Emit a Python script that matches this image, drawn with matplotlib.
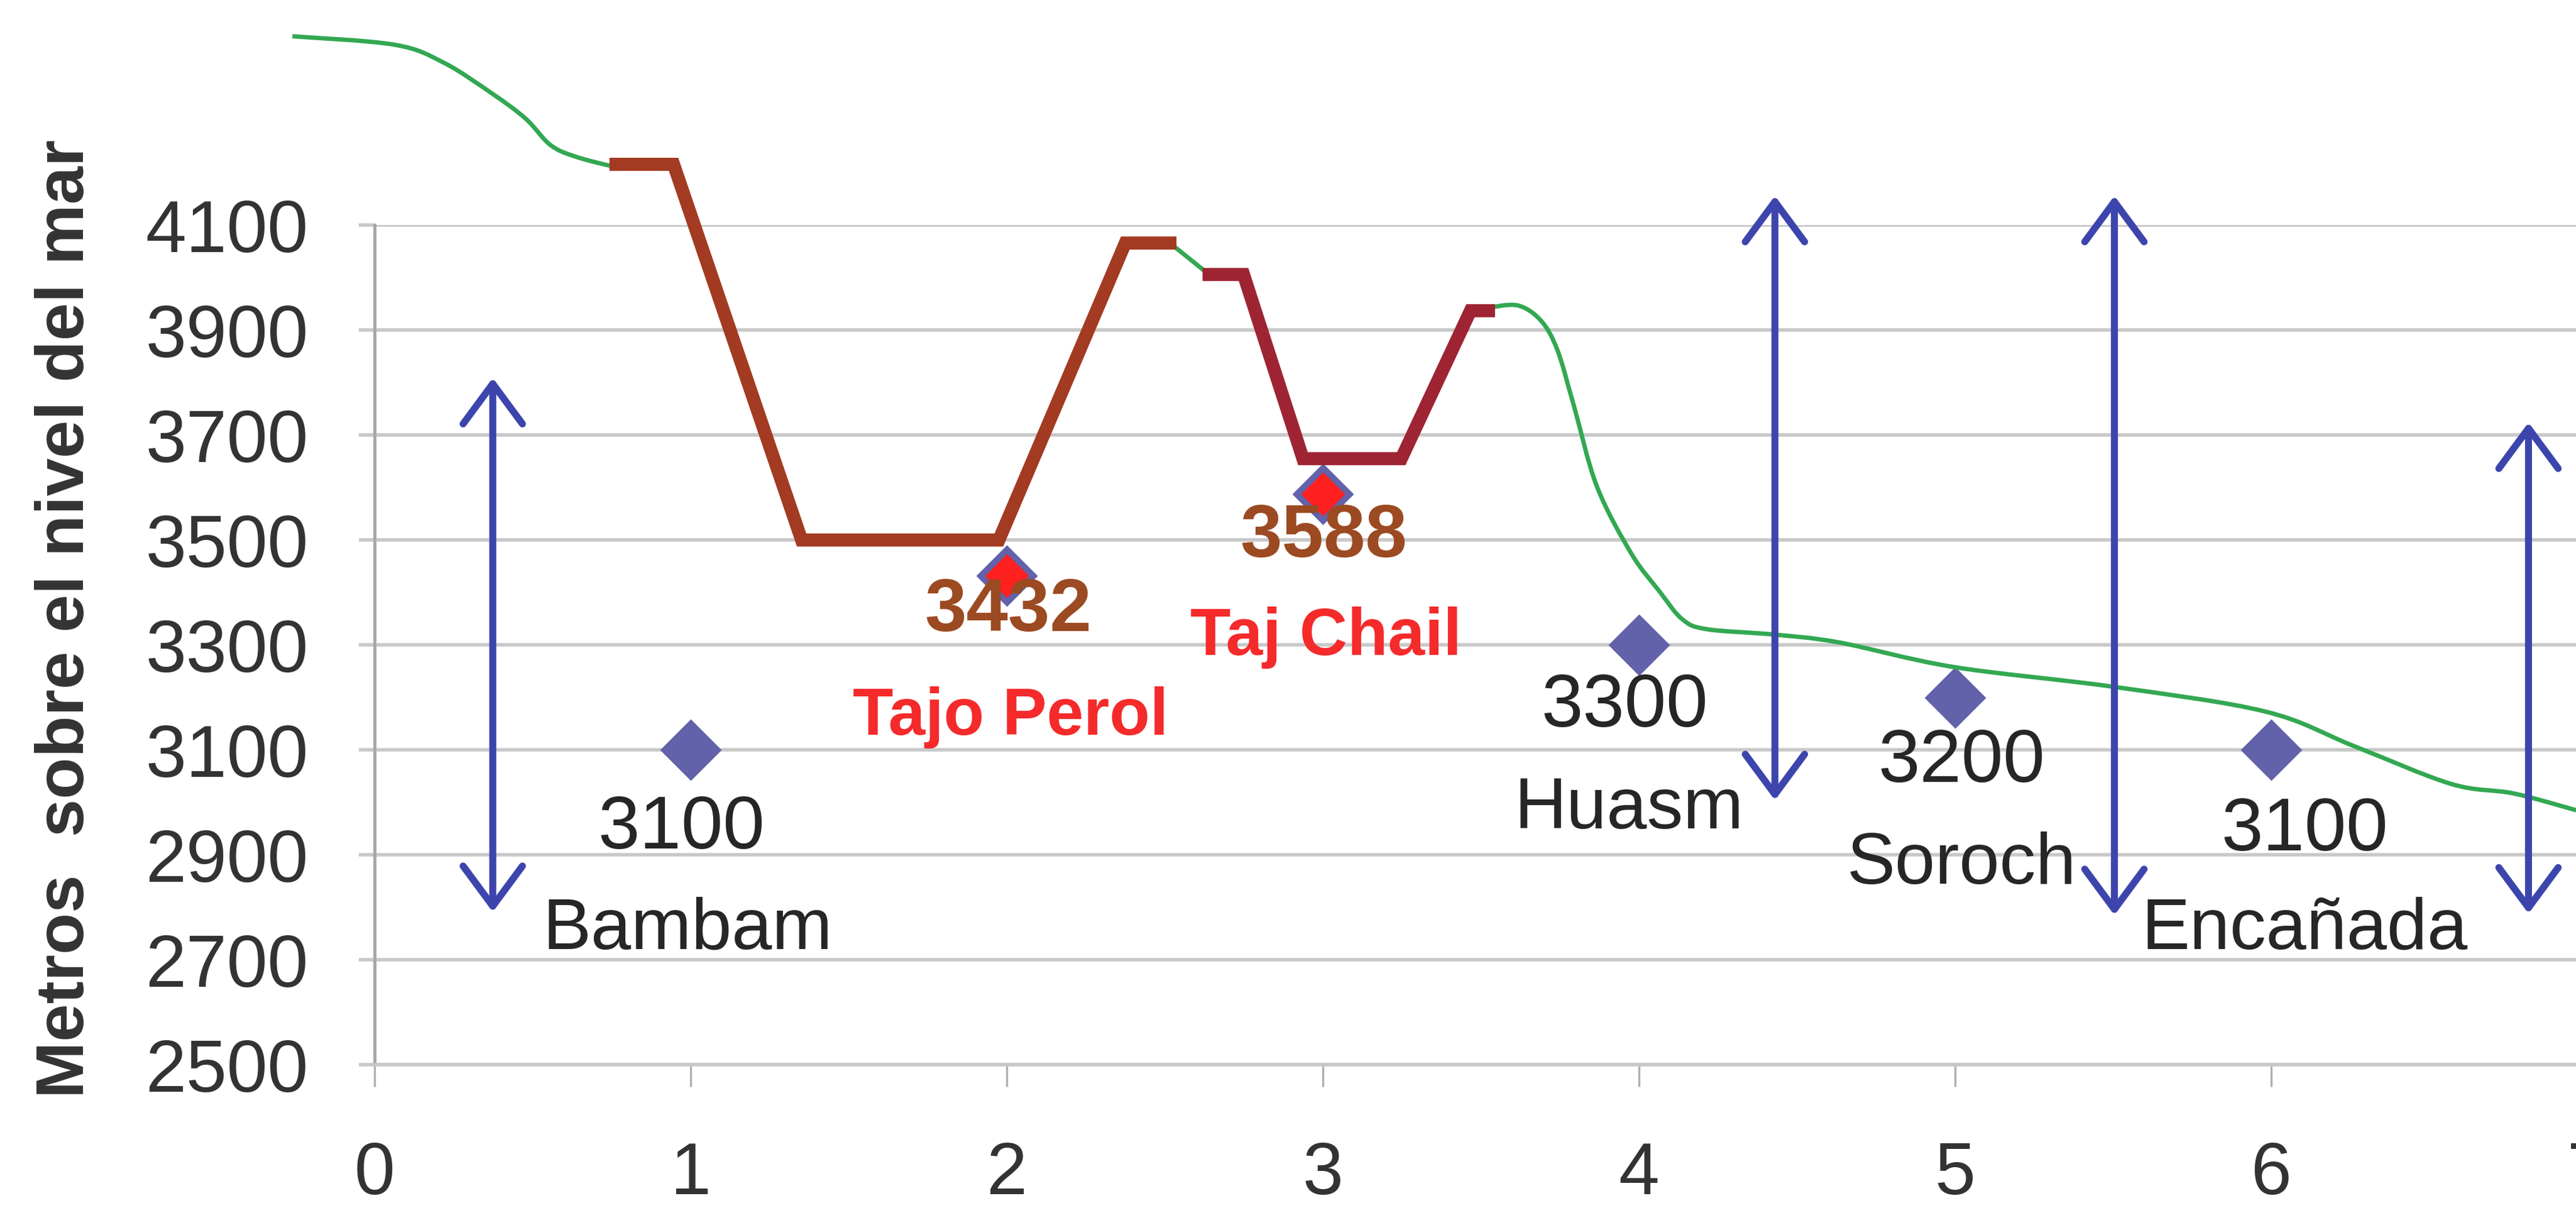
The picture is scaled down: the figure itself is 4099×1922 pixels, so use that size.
import matplotlib
matplotlib.use("Agg")
import matplotlib.pyplot as plt
from matplotlib.path import Path
from matplotlib.patches import PathPatch

plt.rcParams['font.family'] = ['Liberation Sans', 'DejaVu Sans']

# sitios (diamantes)
sites_x = [1, 2, 3, 4, 5, 6]
sites_alt = [3100, 3432, 3588, 3300, 3200, 3100]
site_names = ["Bambam", "Tajo Perol", "Taj Chail", "Huasm", "Soroch", "Encañada"]
highlight = [False, True, True, False, False, False]

# perfil del terreno (verde), tramos del tajo (marron / granate)
green1_x = [-0.26, 0.062, 0.218, 0.374, 0.478, 0.556, 0.634, 0.748, 0.764]
green1_y = [4460, 4444, 4410, 4350, 4303, 4253, 4231, 4213, 4216]
brown_x = [0.764, 0.946, 1.351, 1.975, 2.375, 2.516]
brown_y = [4216, 4216, 3500, 3500, 4066, 4066]
green2_x = [2.516, 2.640]
green2_y = [4066, 4006]
maroon_x = [2.640, 2.749, 2.937, 3.248, 3.467, 3.524]
maroon_y = [4006, 4006, 3655, 3655, 3937, 3937]
green3_x = [3.524, 3.617, 3.690, 3.742, 3.794, 3.867, 3.976, 4.065, 4.137, 4.215,
            4.423, 4.631, 4.995, 5.504, 5.982, 6.263, 6.570, 6.767, 6.965]
green3_y = [3943, 3947, 3918, 3862, 3756, 3602, 3474, 3402, 3349, 3330,
            3320, 3305, 3258, 3220, 3173, 3107, 3035, 3017, 2985]

# flechas dobles (x, arriba, abajo)
arrow_x = [0.374, 4.43, 5.504, 6.814]
arrow_top = [3809, 4156, 4156, 3724]
arrow_bot = [2791, 3004, 2785, 2788]

yticks = [2500, 2700, 2900, 3100, 3300, 3500, 3700, 3900, 4100]
xticks = [0, 1, 2, 3, 4, 5, 6, 7]

# posiciones de etiquetas (linea base)
val_lx = [0.97, 2.004, 3.003, 3.955, 5.02, 6.105]
val_ly = [2912, 3326, 3468, 3144, 3039, 2908]
name_lx = [0.99, 2.012, 3.01, 3.969, 5.02, 6.105]
name_ly = [2721, 3129, 3281, 2950, 2845, 2721]


def smooth_path(xs, ys):
    # linea suavizada (como la opcion "suavizar" de Excel): bezier tipo catmull-rom
    pts = list(zip(xs, ys))
    verts = [pts[0]]
    codes = [Path.MOVETO]
    n = len(pts)
    for i in range(n - 1):
        p0 = pts[i - 1] if i > 0 else pts[i]
        p1 = pts[i]
        p2 = pts[i + 1]
        p3 = pts[i + 2] if i + 2 < n else pts[i + 1]
        c1 = (p1[0] + (p2[0] - p0[0]) / 6, p1[1] + (p2[1] - p0[1]) / 6)
        c2 = (p2[0] - (p3[0] - p1[0]) / 6, p2[1] - (p3[1] - p1[1]) / 6)
        verts += [c1, c2, p2]
        codes += [Path.CURVE4] * 3
    return Path(verts, codes)


fig = plt.figure(figsize=(20.495, 9.61), dpi=200)
ax = fig.add_axes([0.1454, 0.1186, 0.9817, 0.695])
ax.set_xlim(0, 8)
ax.set_ylim(2500, 4100)

grid_c = '#c8c8c8'
ax.yaxis.grid(True, color=grid_c, lw=2)
ax.set_axisbelow(True)
for s in ['top', 'right']:
    ax.spines[s].set_visible(False)
ax.spines['bottom'].set_color(grid_c)
ax.spines['bottom'].set_linewidth(2)
ax.spines['left'].set_color('#a8a8a8')
ax.spines['left'].set_linewidth(1.8)

ax.set_yticks(yticks)
ax.set_xticks(xticks)
ax.tick_params(axis='y', length=9, width=2, color=grid_c, pad=29,
               labelsize=42, labelcolor='#333333')
ax.tick_params(axis='x', length=12.6, width=1.2, color='#b0b0b0', pad=31,
               labelsize=42, labelcolor='#333333')

# lineas
green = '#33a852'
for gx, gy in [(green1_x, green1_y), (green3_x, green3_y)]:
    ax.add_patch(PathPatch(smooth_path(gx, gy), fill=False, edgecolor=green,
                           lw=2.5, clip_on=False, zorder=4))
ax.plot(green2_x, green2_y, color=green, lw=2.5, clip_on=False, zorder=4)
ax.plot(brown_x, brown_y, color='#a33a22', lw=7.5, clip_on=False, zorder=5,
        solid_joinstyle='miter')
ax.plot(maroon_x, maroon_y, color='#9e2433', lw=7.5, clip_on=False, zorder=5,
        solid_joinstyle='miter')

# diamantes
ax.plot(sites_x, sites_alt, 'D', color='#6262aa', markersize=24, ls='none',
        zorder=3, clip_on=False)
hx = [x for x, h in zip(sites_x, highlight) if h]
hy = [y for y, h in zip(sites_alt, highlight) if h]
ax.plot(hx, hy, 'D', color='#ff2020', markersize=17, ls='none', zorder=3.5)

# flechas
for x, t, b in zip(arrow_x, arrow_top, arrow_bot):
    ax.annotate('', xy=(x, t), xytext=(x, b),
                arrowprops=dict(arrowstyle='<->,head_length=2.3,head_width=1.7',
                                color='#3d45ad', lw=4, shrinkA=0, shrinkB=0,
                                mutation_scale=10),
                zorder=6, annotation_clip=False)

# etiquetas
for i in range(len(sites_x)):
    if highlight[i]:
        ax.text(val_lx[i], val_ly[i], str(sites_alt[i]), fontsize=43,
                fontweight='bold', color='#9c4a22', ha='center', va='baseline', zorder=7)
        ax.text(name_lx[i], name_ly[i], site_names[i], fontsize=38,
                fontweight='bold', color='#f52a2a', ha='center', va='baseline', zorder=7)
    else:
        ax.text(val_lx[i], val_ly[i], str(sites_alt[i]), fontsize=43,
                color='#262626', ha='center', va='baseline', zorder=7)
        ax.text(name_lx[i], name_ly[i], site_names[i], fontsize=41.5,
                color='#262626', ha='center', va='baseline', zorder=7)

fig.text(105 / 4099, 1 - 984 / 1922, 'Metros  sobre el nivel del mar',
         rotation=90, fontsize=39, fontweight='bold', color='#333333',
         ha='center', va='center')

fig.savefig('out.png', dpi=200, facecolor='white')
